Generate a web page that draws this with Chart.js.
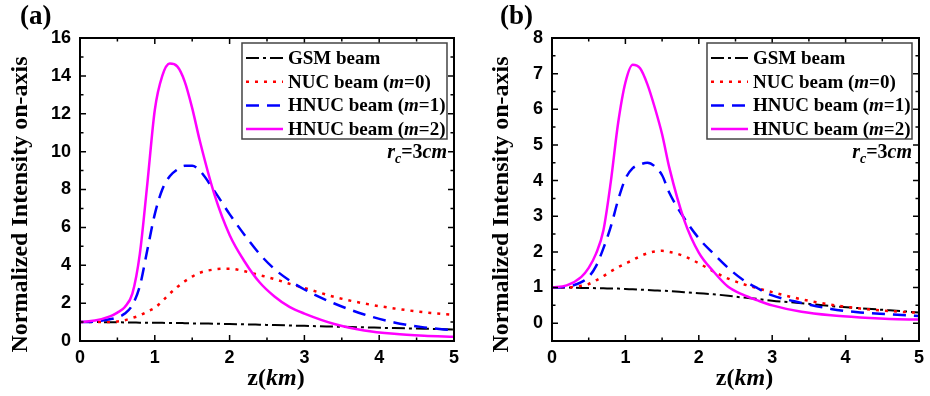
<!DOCTYPE html>
<html>
<head>
<meta charset="utf-8">
<script src="https://cdn.jsdelivr.net/npm/chart.js@4.4.1/dist/chart.umd.min.js"></script>
<style>
  html, body { margin: 0; padding: 0; background: #fff; }
  #wrap { position: relative; width: 930px; height: 396px; overflow: hidden; }
  canvas { position: absolute; top: 0; }
  .tag { position: absolute; top: 0px; font: bold 27px "Liberation Serif", "Times New Roman", serif; }
</style>
</head>
<body>
<div id="wrap">
  <canvas id="chartA" width="465" height="396" style="left:0"></canvas>
  <canvas id="chartB" width="465" height="396" style="left:465px"></canvas>
  <div class="tag" style="left:20px">(a)</div>
  <div class="tag" style="left:500px">(b)</div>
</div>
<script>
// propagation distance z (km)
const zKm = [0, 0.2, 0.4, 0.5, 0.6, 0.7, 0.8, 0.9, 1.0, 1.1, 1.2, 1.3, 1.4, 1.5, 1.6,
             1.8, 2.0, 2.2, 2.4, 2.6, 2.8, 3.0, 3.4, 3.8, 4.2, 4.6, 5.0];

const seriesLabels = ['GSM beam', 'NUC beam (m=0)', 'HNUC beam (m=1)', 'HNUC beam (m=2)'];

// panel (a)
const gsmA   = [1.0, 1.0, 0.99, 0.99, 0.98, 0.98, 0.97, 0.97, 0.96, 0.96, 0.95, 0.95, 0.94, 0.93, 0.93,
                0.91, 0.9, 0.88, 0.86, 0.84, 0.82, 0.8, 0.76, 0.72, 0.68, 0.65, 0.61];
const nucA   = [1.0, 1.0, 1.0, 1.03, 1.1, 1.22, 1.35, 1.55, 1.75, 2.1, 2.5, 2.85, 3.15, 3.4, 3.6,
                3.78, 3.82, 3.68, 3.48, 3.27, 3.02, 2.8, 2.33, 1.98, 1.72, 1.52, 1.38];
const hnuc1A = [1.0, 1.03, 1.15, 1.25, 1.45, 1.9, 2.9, 4.8, 6.7, 8.0, 8.7, 9.05, 9.25, 9.25, 9.0,
                7.9, 6.7, 5.6, 4.6, 3.8, 3.2, 2.72, 1.98, 1.4, 0.98, 0.72, 0.56];
const hnuc2A = [1.0, 1.08, 1.3, 1.5, 1.8, 2.5, 4.6, 8.3, 12.2, 14.0, 14.65, 14.5, 13.7, 12.3, 10.6,
                7.7, 5.6, 4.2, 3.1, 2.35, 1.8, 1.45, 0.9, 0.56, 0.38, 0.28, 0.22];

// panel (b)
const gsmB   = [1.0, 1.0, 0.99, 0.99, 0.98, 0.98, 0.97, 0.97, 0.96, 0.95, 0.94, 0.93, 0.92, 0.91, 0.9,
                0.87, 0.84, 0.81, 0.77, 0.72, 0.68, 0.63, 0.56, 0.48, 0.42, 0.36, 0.3];
const nucB   = [1.0, 1.0, 1.05, 1.1, 1.2, 1.32, 1.45, 1.57, 1.67, 1.77, 1.88, 1.96, 2.01, 2.03, 2.0,
                1.88, 1.68, 1.45, 1.25, 1.1, 0.98, 0.87, 0.67, 0.52, 0.41, 0.34, 0.29];
const hnuc1B = [1.0, 1.02, 1.15, 1.3, 1.6, 2.1, 2.7, 3.45, 4.05, 4.35, 4.45, 4.5, 4.4, 4.15, 3.65,
                2.95, 2.38, 1.95, 1.55, 1.22, 0.98, 0.78, 0.57, 0.4, 0.3, 0.25, 0.2];
const hnuc2B = [1.0, 1.06, 1.3, 1.55, 1.95, 2.6, 3.95, 5.6, 6.75, 7.25, 7.15, 6.7, 6.05, 5.3, 4.35,
                2.9, 1.98, 1.45, 1.02, 0.8, 0.64, 0.5, 0.32, 0.22, 0.16, 0.12, 0.1];

// axis ticks
const xMajor = [0, 1, 2, 3, 4, 5];
const xMinor = [0.5, 1.5, 2.5, 3.5, 4.5];
const yMajorA = [0, 2, 4, 6, 8, 10, 12, 14, 16];
const yMinorA = [1, 3, 5, 7, 9, 11, 13, 15];
const yMajorB = [0, 1, 2, 3, 4, 5, 6, 7, 8];
const yMinorB = [0.5, 1.5, 2.5, 3.5, 4.5, 5.5, 6.5, 7.5];

const SERIF = '"Liberation Serif", "Times New Roman", serif';
const SANS = '"Liberation Sans", Arial, sans-serif';

const lineStyles = [
  { borderColor: '#000000', borderDash: [13, 4, 3, 4], borderWidth: 2 },
  { borderColor: '#ff0000', borderDash: [3, 6], borderWidth: 2.5 },
  { borderColor: '#0000ff', borderDash: [13, 8], borderWidth: 2.5 },
  { borderColor: '#ff00ff', borderDash: [], borderWidth: 2.5 }
];

// draw a row of text pieces with different fonts
function drawRuns(ctx, runs, x, y, align) {
  let total = 0;
  runs.forEach(r => { ctx.font = r.font; total += ctx.measureText(r.t).width; });
  let cx = align === 'right' ? x - total : align === 'center' ? x - total / 2 : x;
  runs.forEach(r => {
    ctx.font = r.font;
    ctx.fillText(r.t, cx, y + (r.dy || 0));
    cx += ctx.measureText(r.t).width;
  });
}

function labelRuns(label, size) {
  const parts = label.split(/m(?==)/);
  if (parts.length === 1) return [{ t: label, font: `bold ${size}px ${SERIF}` }];
  return [
    { t: parts[0], font: `bold ${size}px ${SERIF}` },
    { t: 'm', font: `italic bold ${size}px ${SERIF}` },
    { t: parts[1], font: `bold ${size}px ${SERIF}` }
  ];
}

const decorPlugin = {
  id: 'decor',
  afterDatasetsDraw(chart, args, opts) {
    const { ctx, chartArea: a, scales: { x, y } } = chart;
    ctx.save();
    ctx.strokeStyle = '#000';
    ctx.setLineDash([]);

    // inward ticks on all four sides
    ctx.lineWidth = 1.5;
    const xt = (vals, len) => vals.forEach(v => {
      const px = x.getPixelForValue(v);
      ctx.beginPath();
      ctx.moveTo(px, a.bottom); ctx.lineTo(px, a.bottom - len);
      ctx.moveTo(px, a.top); ctx.lineTo(px, a.top + len);
      ctx.stroke();
    });
    const yt = (vals, len) => vals.forEach(v => {
      const py = y.getPixelForValue(v);
      ctx.beginPath();
      ctx.moveTo(a.left, py); ctx.lineTo(a.left + len, py);
      ctx.moveTo(a.right, py); ctx.lineTo(a.right - len, py);
      ctx.stroke();
    });
    xt(xMajor, 6); xt(xMinor, 3.5);
    yt(opts.yMajor, 6); yt(opts.yMinor, 3.5);

    // frame
    ctx.lineWidth = 2;
    ctx.strokeRect(a.left, a.top, a.right - a.left, a.bottom - a.top);

    // legend box
    const bw = 205, bh = 96;
    const bx = a.right - 7 - bw, by = a.top + 5;
    ctx.fillStyle = '#fff';
    ctx.fillRect(bx, by, bw, bh);
    ctx.strokeStyle = '#444';
    ctx.lineWidth = 1.5;
    ctx.strokeRect(bx, by, bw, bh);
    ctx.textBaseline = 'middle';
    ctx.fillStyle = '#000';
    chart.data.datasets.forEach((ds, i) => {
      const ry = by + 15 + i * 23.7;
      ctx.strokeStyle = ds.borderColor;
      ctx.lineWidth = ds.borderWidth;
      ctx.setLineDash(ds.borderDash);
      ctx.beginPath();
      ctx.moveTo(bx + 4, ry); ctx.lineTo(bx + 41, ry);
      ctx.stroke();
      ctx.setLineDash([]);
      drawRuns(ctx, labelRuns(ds.label, 19), bx + 46, ry + 1, 'left');
    });

    // r_c = 3cm
    ctx.textBaseline = 'alphabetic';
    drawRuns(ctx, [
      { t: 'r', font: `italic bold 20px ${SERIF}` },
      { t: 'c', font: `italic bold 14px ${SERIF}`, dy: 5 },
      { t: '=3', font: `bold 20px ${SERIF}` },
      { t: 'cm', font: `italic bold 20px ${SERIF}` }
    ], a.right - 7, a.top + 120, 'right');

    // axis titles
    ctx.textBaseline = 'middle';
    const midX = (a.left + a.right) / 2, midY = (a.top + a.bottom) / 2;
    drawRuns(ctx, [
      { t: 'z(', font: `bold 24px ${SERIF}` },
      { t: 'km', font: `italic bold 24px ${SERIF}` },
      { t: ')', font: `bold 24px ${SERIF}` }
    ], midX + 9, a.bottom + 38, 'center');
    ctx.translate(opts.titleX, midY + 15);
    ctx.rotate(-Math.PI / 2);
    drawRuns(ctx, [{ t: 'Normalized Intensity on-axis', font: `bold 24px ${SERIF}` }], 0, 0, 'center');
    ctx.restore();
  }
};

function makePanel(id, series, yMin, yMax, yMajor, yMinor, axisW, rightPad, titleX) {
  const datasets = series.map((vals, i) => ({
    label: seriesLabels[i],
    data: zKm.map((z, j) => ({ x: z, y: vals[j] })),
    ...lineStyles[i],
    pointRadius: 0,
    fill: false,
    cubicInterpolationMode: 'monotone',
    order: 3 - i
  }));
  return new Chart(document.getElementById(id), {
    type: 'line',
    data: { datasets },
    options: {
      responsive: false,
      animation: false,
      devicePixelRatio: 1,
      layout: { padding: { left: 0, top: 38, right: rightPad, bottom: 0 } },
      plugins: {
        legend: { display: false },
        tooltip: { enabled: false },
        decor: { yMajor, yMinor, titleX }
      },
      scales: {
        x: {
          type: 'linear', min: 0, max: 5,
          afterBuildTicks: s => { s.ticks = xMajor.map(v => ({ value: v })); },
          afterFit: s => { s.height = 55; },
          grid: { display: false, drawTicks: false },
          border: { display: false },
          ticks: { color: '#000', padding: 6, maxRotation: 0, font: { family: SANS, size: 18, weight: 'bold' } }
        },
        y: {
          min: yMin, max: yMax,
          afterBuildTicks: s => { s.ticks = yMajor.map(v => ({ value: v })); },
          afterFit: s => { s.width = axisW; },
          grid: { display: false, drawTicks: false },
          border: { display: false },
          ticks: { color: '#000', padding: 9, font: { family: SANS, size: 18, weight: 'bold' } }
        }
      }
    },
    plugins: [decorPlugin]
  });
}

makePanel('chartA', [gsmA, nucA, hnuc1A, hnuc2A], 0, 16, yMajorA, yMinorA, 80, 11, 21);
makePanel('chartB', [gsmB, nucB, hnuc1B, hnuc2B], -0.5, 8, yMajorB, yMinorB, 87, 5, 37);
</script>
</body>
</html>
